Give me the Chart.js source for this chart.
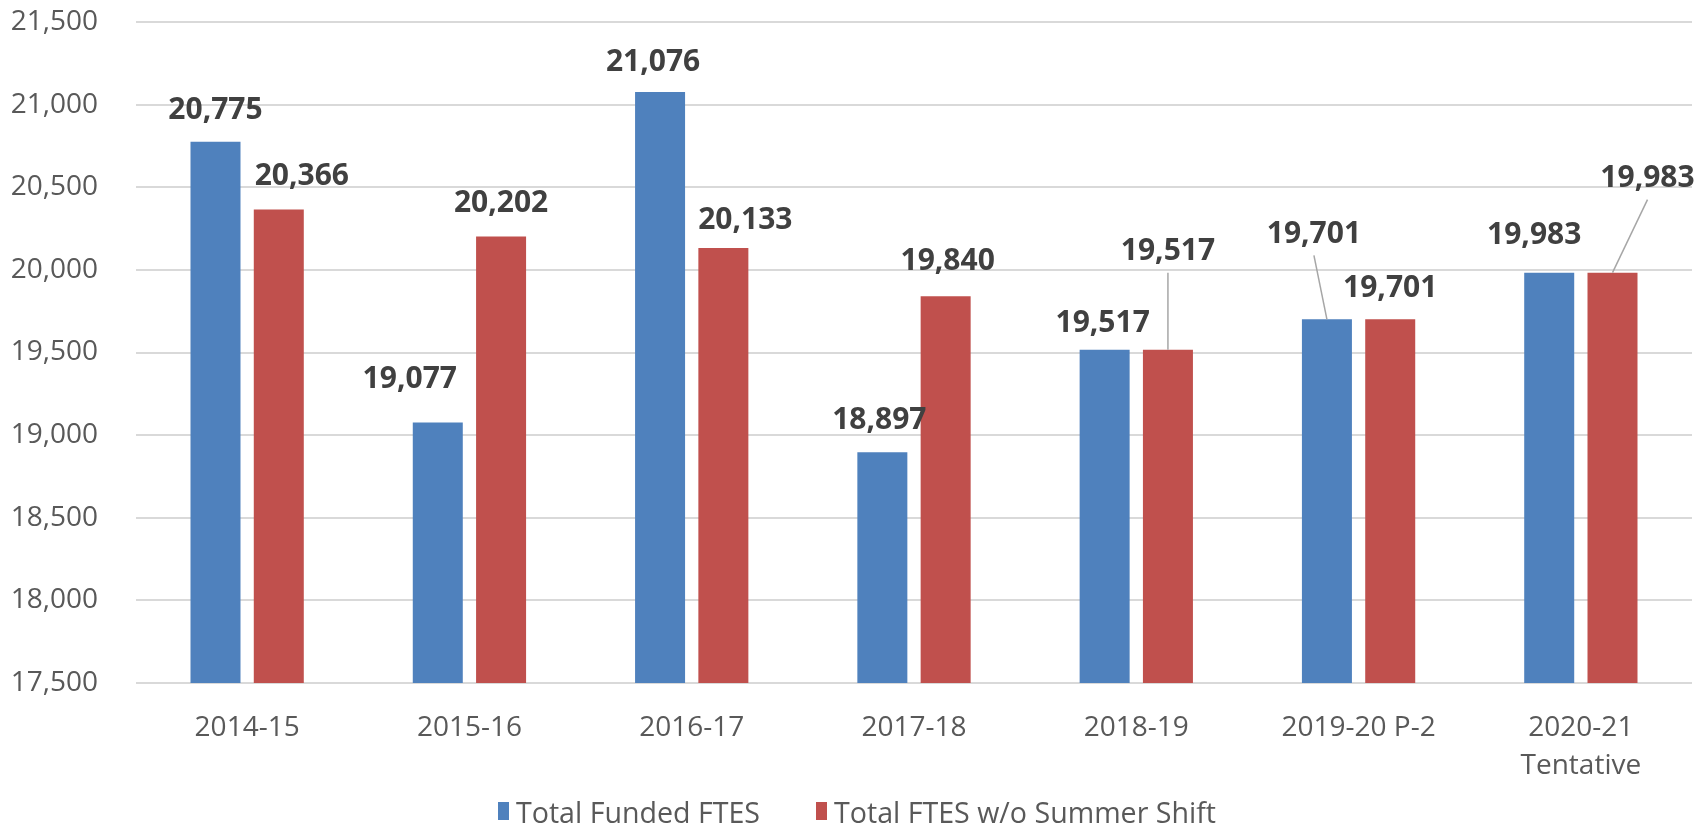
<!DOCTYPE html>
<html>
<head>
<meta charset="utf-8">
<script src="https://cdn.jsdelivr.net/npm/chart.js@4.4.0/dist/chart.umd.min.js"></script>
<style>
  body { margin: 0; background: #fff; }
  #wrap { position: relative; width: 1698px; height: 829px; }
  #legend {
    position: absolute; left: 0; top: 795px; width: 1698px; height: 32px;
    display: flex; justify-content: center; align-items: center;
    padding-left: 16px; box-sizing: border-box;
    font-family: 'Open Sans'; font-size: 28.6px; color: #595959;
  }
  .item { display: flex; align-items: center; margin: 0 28px; white-space: nowrap; }
  .box { width: 11px; height: 18px; margin-right: 7px; }
</style>
</head>
<body>
<div id="wrap">
  <canvas id="chart" width="1698" height="829"></canvas>
  <div id="legend"></div>
</div>
<script>
const categories = ['2014-15', '2015-16', '2016-17', '2017-18', '2018-19', '2019-20 P-2', ['2020-21', 'Tentative']];
const seriesNames = ['Total Funded FTES', 'Total FTES w/o Summer Shift'];
const fundedFTES = [20775, 19077, 21076, 18897, 19517, 19701, 19983];
const noShiftFTES = [20366, 20202, 20133, 19840, 19517, 19701, 19983];
const yMin = 17500, yMax = 21500, yStep = 500;

const colors = ['#4F81BD', '#C0504D'];

// label nudges [dx, dy] relative to bar top centre, plus which ones get a leader line
const labelShift = [
  [[0, -31], [-28, -43], [-7, -30], [-3, -32], [-2, -26], [-13, -85], [-15, -37]],
  [[23, -33], [0, -33], [22, -27], [2, -35], [0, -98], [0, -31], [35, -94]]
];
const leaders = [
  [false, false, false, false, false, true, false],
  [false, false, false, false, true, false, true]
];

const valueLabels = {
  id: 'valueLabels',
  afterDatasetsDraw(chart) {
    const ctx = chart.ctx;
    ctx.save();
    ctx.font = 'bold 30px "Open Sans"';
    ctx.fillStyle = '#404040';
    ctx.textAlign = 'center';
    ctx.textBaseline = 'middle';
    chart.data.datasets.forEach((ds, i) => {
      chart.getDatasetMeta(i).data.forEach((bar, j) => {
        const [dx, dy] = labelShift[i][j];
        const x = bar.x + dx, y = bar.y + dy;
        if (leaders[i][j]) {
          ctx.beginPath();
          ctx.strokeStyle = '#a6a6a6';
          ctx.lineWidth = 1.5;
          ctx.moveTo(x, y + 21);
          ctx.lineTo(bar.x, bar.y);
          ctx.stroke();
        }
        ctx.fillText(ds.data[j].toLocaleString('en-US'), x, y);
      });
    });
    ctx.restore();
  }
};

const ctx = document.getElementById('chart').getContext('2d');
const chart = new Chart(ctx, {
  type: 'bar',
  data: {
    labels: categories,
    datasets: [
      { label: seriesNames[0], data: fundedFTES, backgroundColor: colors[0] },
      { label: seriesNames[1], data: noShiftFTES, backgroundColor: colors[1] }
    ]
  },
  options: {
    responsive: false,
    animation: false,
    devicePixelRatio: 1,
    layout: { padding: { top: 22, right: 6, left: 0, bottom: 0 } },
    datasets: { bar: { categoryPercentage: 0.5695, barPercentage: 0.79 } },
    plugins: { legend: { display: false }, tooltip: { enabled: false } },
    scales: {
      x: {
        grid: { display: false },
        border: { display: false },
        ticks: {
          padding: 18,
          color: '#595959',
          font: { family: 'Open Sans', size: 28, lineHeight: 1.35 }
        },
        afterFit(scale) { scale.height = 146; scale.paddingLeft = 0; scale.paddingRight = 0; }
      },
      y: {
        min: yMin,
        max: yMax,
        border: { display: false },
        grid: { color: '#d9d9d9', lineWidth: 2, drawTicks: false },
        ticks: {
          stepSize: yStep,
          padding: 38,
          color: '#595959',
          font: { family: 'Open Sans', size: 28 },
          callback: v => v.toLocaleString('en-US')
        },
        afterFit(scale) { scale.width = 136; scale.paddingTop = 0; scale.paddingBottom = 0; }
      }
    }
  },
  plugins: [valueLabels]
});

const legend = document.getElementById('legend');
chart.data.datasets.forEach(ds => {
  const item = document.createElement('div');
  item.className = 'item';
  const box = document.createElement('span');
  box.className = 'box';
  box.style.background = ds.backgroundColor;
  const txt = document.createElement('span');
  txt.textContent = ds.label;
  item.appendChild(box);
  item.appendChild(txt);
  legend.appendChild(item);
});
</script>
</body>
</html>
